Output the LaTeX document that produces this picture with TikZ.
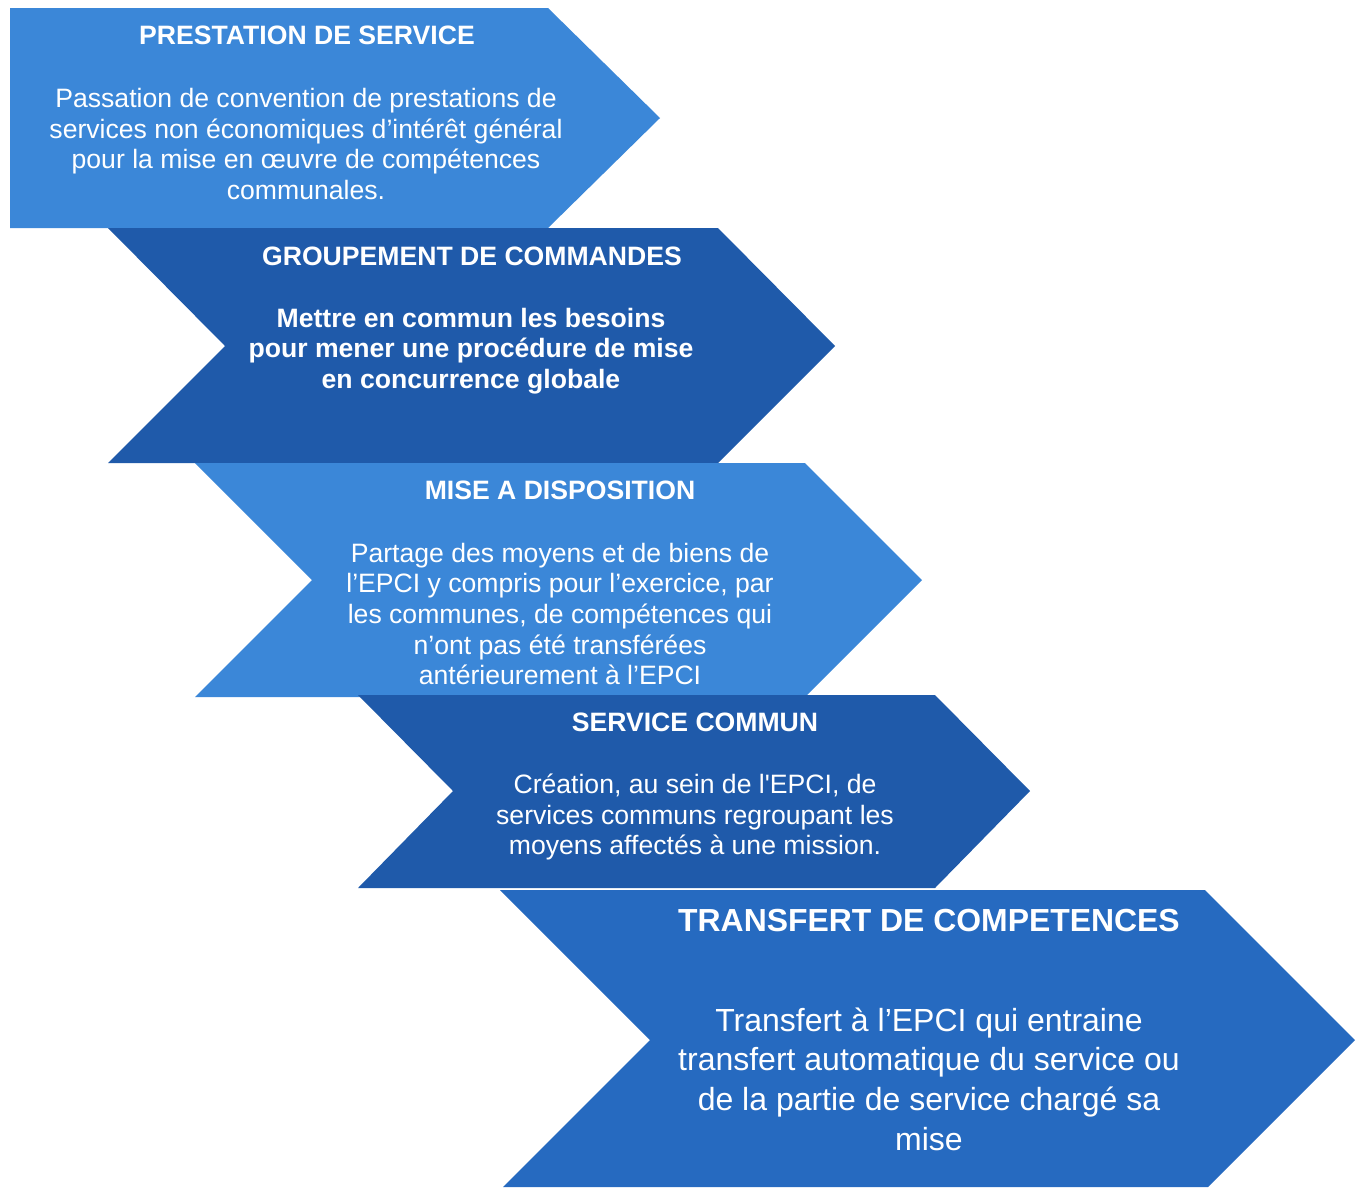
\documentclass[tikz,border=0pt]{standalone}
\usepackage{fontspec}
\setmainfont{Liberation Sans}
\definecolor{lightb}{RGB}{59,135,216}
\definecolor{darkb}{RGB}{31,90,170}
\definecolor{midb}{RGB}{38,106,192}
\begin{document}
\begin{tikzpicture}[x=1pt,y=-1pt,
  ttl/.style={text=white,inner sep=0pt,font=\fontsize{26.6}{30.6}\selectfont\bfseries},
  bdy/.style={text=white,inner sep=0pt,align=center,font=\fontsize{26.6}{30.6}\selectfont},
  bdyb/.style={bdy,font=\fontsize{26.6}{30.6}\selectfont\bfseries},
  bigttl/.style={text=white,inner sep=0pt,font=\fontsize{31.9}{36}\selectfont\bfseries},
  bigbdy/.style={text=white,inner sep=0pt,align=center,font=\fontsize{32}{39.7}\selectfont}]
\useasboundingbox (0,0) rectangle (1363,1187);
\fill[white] (0,0) rectangle (1363,1187);
% chevrons
\fill[lightb] (10,8) -- (548,8) -- (660,118) -- (548,228) -- (10,228) -- cycle;
\fill[darkb] (108,228) -- (718,228) -- (835,346) -- (718,463) -- (108,463) -- (225,346) -- cycle;
\fill[lightb] (195,463) -- (805,463) -- (922,580) -- (805,697) -- (195,697) -- (312,580) -- cycle;
\fill[darkb] (358,695) -- (935,695) -- (1030,791) -- (935,888) -- (358,888) -- (453,791) -- cycle;
\fill[midb] (500,890) -- (1205,890) -- (1355,1040) -- (1208,1187) -- (503,1187) -- (650,1040) -- cycle;
% texts
\node[ttl] (t1) at (307,35) {PRESTATION DE SERVICE};
\node[bdy] (b1) at (306,144) {Passation de convention de prestations de\\services non économiques d’intérêt général\\pour la mise en œuvre de compétences\\communales.};
\node[ttl] (t2) at (472,256) {GROUPEMENT DE COMMANDES};
\node[bdyb] (b2) at (471,351) {Mettre en commun les besoins\\pour mener une procédure de mise\\en concurrence globale};
\node[ttl] (t3) at (560,490) {MISE A DISPOSITION};
\node[bdy] (b3) at (560,614) {Partage des moyens et de biens de\\l’EPCI y compris pour l’exercice, par\\les communes, de compétences qui\\n’ont pas été transférées\\antérieurement à l’EPCI};
\node[ttl] (t4) at (695,722) {SERVICE COMMUN};
\node[bdy] (b4) at (695,817) {Création, au sein de l\textquotesingle EPCI, de\\services communs regroupant les\\moyens affectés à une mission.};
\node[bigttl] (t5) at (929,921) {TRANSFERT DE COMPETENCES};
\node[bigbdy] (b5) at (929,1079) {Transfert à l’EPCI qui entraine\\transfert automatique du service ou\\de la partie de service chargé sa\\mise};
\end{tikzpicture}
\end{document}
